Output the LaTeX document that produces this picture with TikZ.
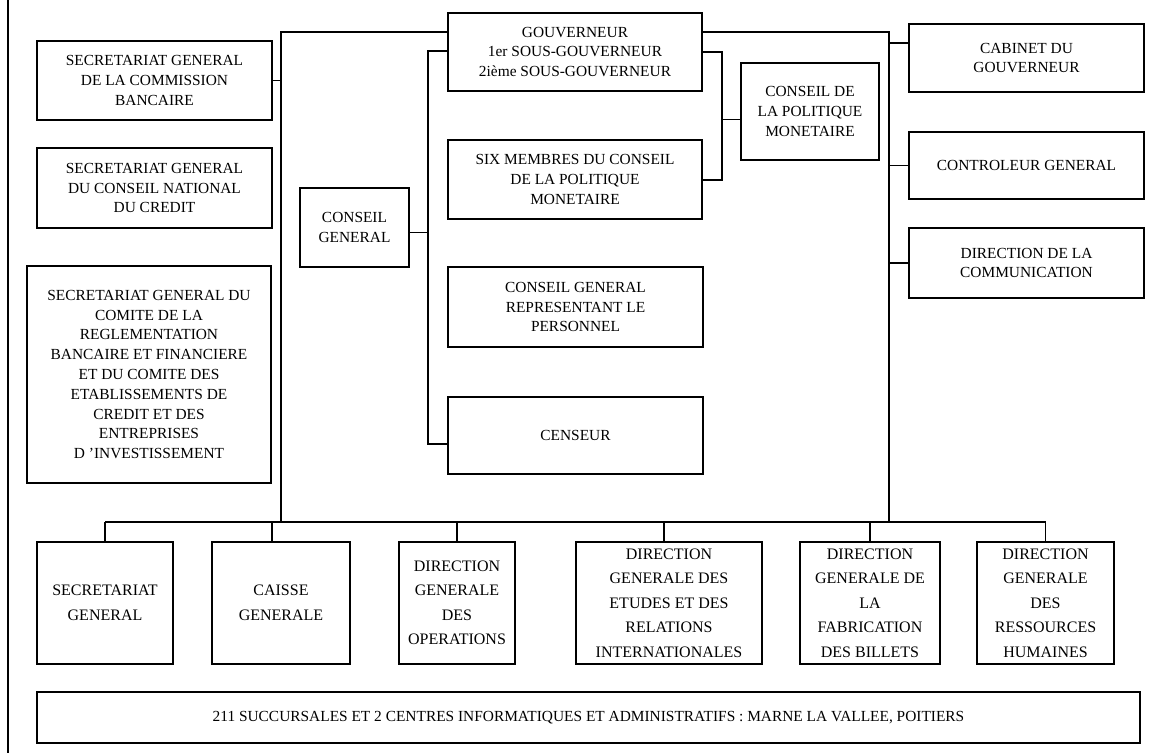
\documentclass[tikz,border=0pt]{standalone}
\usepackage{fontspec}
\setmainfont{Liberation Serif}
\begin{document}
\begin{tikzpicture}[x=1pt,y=-1pt,
  box/.style={draw,line width=1.2pt,align=center,inner sep=0pt},
  unit/.style={box,font=\fontsize{15.4}{19.8}\selectfont},
  dir/.style={box,minimum height=122pt,font=\fontsize{16}{24.5}\selectfont},
  link/.style={line width=1.2pt}]
\useasboundingbox (0,0) rectangle (1169,753);
\node[unit,minimum width=235pt,minimum height=79pt] (sgcb) at (154.5,80.5) {SECRETARIAT GENERAL\\DE LA COMMISSION\\BANCAIRE};
\node[unit,minimum width=235pt,minimum height=80pt] (sgcnc) at (154.5,188) {SECRETARIAT GENERAL\\DU CONSEIL NATIONAL\\DU CREDIT};
\node[unit,minimum width=244pt,minimum height=217pt] (sgcrbf) at (149,374.5) {SECRETARIAT GENERAL DU\\COMITE DE LA\\REGLEMENTATION\\BANCAIRE ET FINANCIERE\\ET DU COMITE DES\\ETABLISSEMENTS DE\\CREDIT ET DES\\ENTREPRISES\\D 'INVESTISSEMENT};
\node[unit,minimum width=109pt,minimum height=79pt] (cg) at (354.5,227.5) {CONSEIL\\GENERAL};
\node[unit,minimum width=254pt,minimum height=78pt] (gouv) at (575,52) {GOUVERNEUR\\1er SOUS-GOUVERNEUR\\2ième SOUS-GOUVERNEUR};
\node[unit,minimum width=254pt,minimum height=79pt] (six) at (575,179.5) {SIX MEMBRES DU CONSEIL\\DE LA POLITIQUE\\MONETAIRE};
\node[unit,minimum width=255pt,minimum height=80pt] (cgrp) at (575.5,307) {CONSEIL GENERAL\\REPRESENTANT LE\\PERSONNEL};
\node[unit,minimum width=255pt,minimum height=77pt] (cens) at (575.5,435.5) {CENSEUR};
\node[unit,minimum width=138pt,minimum height=97pt] (cpm) at (810,111.5) {CONSEIL DE\\LA POLITIQUE\\MONETAIRE};
\node[unit,minimum width=235pt,minimum height=68pt] (cab) at (1026.5,58) {CABINET DU\\GOUVERNEUR};
\node[unit,minimum width=235pt,minimum height=67pt] (ctrl) at (1026.5,165.5) {CONTROLEUR GENERAL};
\node[unit,minimum width=235pt,minimum height=70pt] (comm) at (1026.5,263) {DIRECTION DE LA\\COMMUNICATION};
\node[dir,minimum width=136pt] (sg) at (105,603) {SECRETARIAT\\GENERAL};
\node[dir,minimum width=138pt] (caisse) at (281,603) {CAISSE\\GENERALE};
\node[dir,minimum width=116pt] (dgo) at (457,603) {DIRECTION\\GENERALE\\DES\\OPERATIONS};
\node[dir,minimum width=186pt] (etudes) at (669,603) {DIRECTION\\GENERALE DES\\ETUDES ET DES\\RELATIONS\\INTERNATIONALES};
\node[dir,minimum width=140pt] (fab) at (870,603) {DIRECTION\\GENERALE DE\\LA\\FABRICATION\\DES BILLETS};
\node[dir,minimum width=137pt] (rh) at (1045.5,603) {DIRECTION\\GENERALE\\DES\\RESSOURCES\\HUMAINES};
\node[unit,minimum width=1103pt,minimum height=51pt] (succ) at (588.5,717.5) {211 SUCCURSALES ET 2 CENTRES INFORMATIQUES ET ADMINISTRATIFS : MARNE LA VALLEE, POITIERS};
\coordinate (tl) at (281,32);
\coordinate (tr) at (889,32);
\coordinate (bl) at (281,522);
\coordinate (br) at (889,522);
\coordinate (it) at (428,51);
\coordinate (ib) at (428,444);
\coordinate (rt) at (722,52);
\coordinate (rb) at (722,180);
\draw[link] (8,0)--(8,753);
\draw[link] (sgcb.east)--(sgcb.east -| tl);
\draw[link] (gouv.west |- tl)--(tl)--(bl);
\draw[link] (gouv.east |- tr)--(tr)--(br);
\draw[link] (gouv.west |- it)--(it)--(ib)--(cens.west |- ib);
\draw[link] ([yshift=-5]cg.east)--([yshift=-5]cg.east -| it);
\draw[link] (gouv.east |- rt)--(rt)--(rb)--(six.east |- rb);
\draw[link] ([yshift=-8]cpm.west)--([yshift=-8]cpm.west -| rt);
\draw[link] ([yshift=15]cab.west)--([yshift=15]cab.west -| tr);
\foreach \b in {ctrl,comm} \draw[link] (\b.west)--(\b.west -| tr);
\draw[link] (sg.north |- bl)--(rh.north |- bl);
\foreach \b in {sg,dgo,fab,rh} \draw[link] (\b.north)--(\b.north |- bl);
\draw[link] ([xshift=-9]caisse.north)--([xshift=-9]caisse.north |- bl);
\draw[link] ([xshift=-5]etudes.north)--([xshift=-5]etudes.north |- bl);
\end{tikzpicture}
\end{document}
